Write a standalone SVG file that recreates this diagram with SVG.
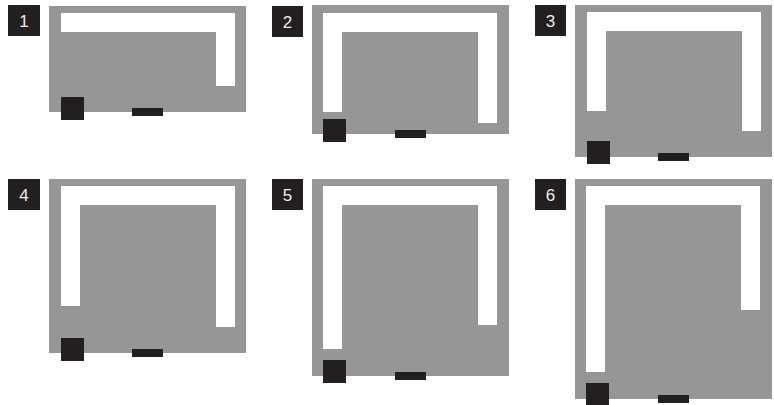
<svg xmlns="http://www.w3.org/2000/svg" width="774" height="405" viewBox="0 0 774 405">
<style>
.bg{fill:#969698}
.w{fill:#ffffff}
.k{fill:#231f20}
.lbl{font-family:"Liberation Sans",Arial,sans-serif;font-size:17px;fill:#ececec;text-anchor:middle}
</style>
<rect width="774" height="405" fill="#ffffff"/>
<g id="panel1">
<rect class="k" x="8" y="5" width="32" height="31"/>
<text class="lbl" x="24" y="27">1</text>
<rect class="bg" x="49" y="6" width="197" height="106"/>
<rect class="w" x="61" y="13" width="174" height="19"/>
<rect class="w" x="216" y="32" width="19" height="54"/>
<rect class="k" x="61" y="97" width="23" height="23"/>
<rect class="k" x="132" y="108" width="31" height="8"/>
</g>
<g id="panel2">
<rect class="k" x="272" y="6" width="31" height="31"/>
<text class="lbl" x="287.5" y="28">2</text>
<rect class="bg" x="312" y="5" width="197" height="129"/>
<rect class="w" x="323" y="13" width="174" height="19"/>
<rect class="w" x="323" y="32" width="19" height="80"/>
<rect class="w" x="478" y="32" width="19" height="91"/>
<rect class="k" x="323" y="119" width="23" height="23"/>
<rect class="k" x="395" y="130" width="31" height="8"/>
</g>
<g id="panel3">
<rect class="k" x="535" y="5" width="31" height="31"/>
<text class="lbl" x="550.5" y="27">3</text>
<rect class="bg" x="575" y="5" width="197" height="152"/>
<rect class="w" x="587" y="12" width="174" height="19"/>
<rect class="w" x="587" y="31" width="19" height="80"/>
<rect class="w" x="742" y="31" width="19" height="100"/>
<rect class="k" x="587" y="141" width="23" height="23"/>
<rect class="k" x="658" y="153" width="31" height="8"/>
</g>
<g id="panel4">
<rect class="k" x="8" y="179" width="32" height="31"/>
<text class="lbl" x="24" y="201">4</text>
<rect class="bg" x="49" y="179" width="197" height="174"/>
<rect class="w" x="61" y="186" width="174" height="19"/>
<rect class="w" x="61" y="205" width="19" height="101"/>
<rect class="w" x="216" y="205" width="19" height="122"/>
<rect class="k" x="61" y="338" width="23" height="23"/>
<rect class="k" x="132" y="349" width="31" height="8"/>
</g>
<g id="panel5">
<rect class="k" x="272" y="179" width="31" height="31"/>
<text class="lbl" x="287.5" y="201">5</text>
<rect class="bg" x="312" y="179" width="197" height="197"/>
<rect class="w" x="323" y="186" width="174" height="19"/>
<rect class="w" x="323" y="205" width="19" height="144"/>
<rect class="w" x="478" y="205" width="19" height="120"/>
<rect class="k" x="323" y="360" width="23" height="23"/>
<rect class="k" x="395" y="372" width="31" height="8"/>
</g>
<g id="panel6">
<rect class="k" x="535" y="179" width="31" height="31"/>
<text class="lbl" x="550.5" y="201">6</text>
<rect class="bg" x="575" y="179" width="197" height="220"/>
<rect class="w" x="586" y="186" width="174" height="19"/>
<rect class="w" x="586" y="205" width="19" height="167"/>
<rect class="w" x="741" y="205" width="19" height="105"/>
<rect class="k" x="586" y="383" width="23" height="22"/>
<rect class="k" x="658" y="395" width="31" height="8"/>
</g>
<g id="connectors"/>
</svg>
